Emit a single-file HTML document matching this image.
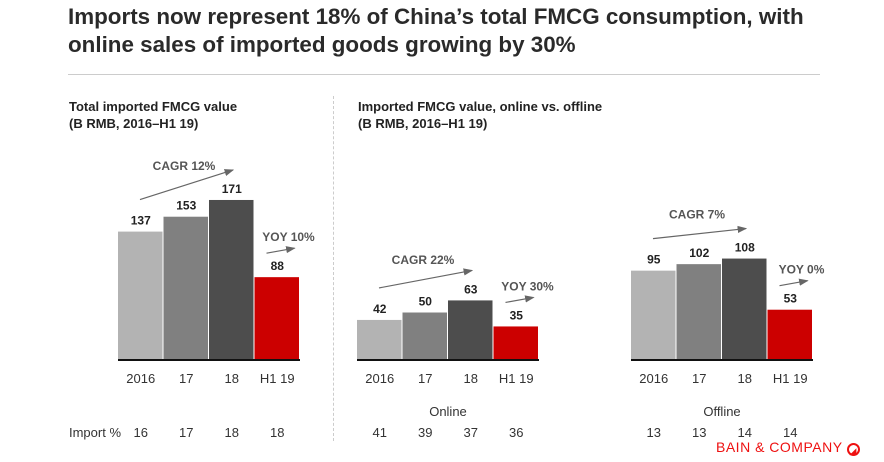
<!DOCTYPE html>
<html><head><meta charset="utf-8"><style>
body{margin:0;background:#fff;font-family:"Liberation Sans",Arial,sans-serif;}
#wrap{position:relative;width:884px;height:462px;overflow:hidden;}
.t{position:absolute;color:#333;}
</style></head><body>
<div id="wrap">
<div class="t" style="left:68px;top:3px;font-size:22.4px;font-weight:bold;line-height:28px;color:#2a2a2a;">Imports now represent 18% of China’s total FMCG consumption, with<br>online sales of imported goods growing by 30%</div>
<div style="position:absolute;left:68px;top:74px;width:752px;height:1px;background:#ccc;"></div>
<div style="position:absolute;left:333px;top:96px;height:345px;border-left:1px dashed #ccc;"></div>
<div class="t" style="left:69px;top:98px;font-size:13px;font-weight:bold;line-height:17px;color:#222;">Total imported FMCG value<br>(B RMB, 2016–H1 19)</div>
<div class="t" style="left:358px;top:98px;font-size:13px;font-weight:bold;line-height:17px;color:#222;">Imported FMCG value, online vs. offline<br>(B RMB, 2016–H1 19)</div>
<svg id="svg" width="884" height="462" style="position:absolute;left:0;top:0;">
<defs><marker id="ah" markerWidth="8" markerHeight="8" refX="7" refY="4" orient="auto"><path d="M0,1 L8,4 L0,7 z" fill="#666"/></marker></defs>
</svg>
<div class="t" style="left:716px;top:439px;font-size:14px;color:#e11;letter-spacing:0.5px;">BAIN &amp; COMPANY <span style="display:inline-block;width:13px;height:13px;border:2px solid #e11;border-radius:50%;font-size:9px;line-height:13px;text-align:center;vertical-align:-2px;box-sizing:border-box;">◢</span></div>
</div>
<script>
const categories=["2016","17","18","H1 19"];
const totalValues=[137,153,171,88];
const onlineValues=[42,50,63,35];
const offlineValues=[95,102,108,53];
const totalImportPct=[16,17,18,18];
const onlineImportPct=[41,39,37,36];
const offlineImportPct=[13,13,14,14];
const cagrLabels=["CAGR 12%","CAGR 22%","CAGR 7%"];
const yoyLabels=["YOY 10%","YOY 30%","YOY 0%"];
const colors=["#b3b3b3","#808080","#4d4d4d","#cc0000"];
const svg=document.getElementById('svg');
const NS="http://www.w3.org/2000/svg";
const base=359,scale=0.93,bw=45.5;
function y(v){return base-v*scale;}
function mk(tag,attrs){const e=document.createElementNS(NS,tag);for(const k in attrs)e.setAttribute(k,attrs[k]);svg.appendChild(e);return e;}
function txt(x,yy,s,opt){const e=mk('text',{x:x,y:yy,'text-anchor':'middle','font-size':opt.size||12,'font-weight':opt.bold?'bold':'normal',fill:opt.fill||'#333','font-family':'Liberation Sans, Arial, sans-serif'});e.textContent=s;return e;}
const panels=[
 {x0:118,vals:totalValues,pct:totalImportPct,name:'total',group:null},
 {x0:357,vals:onlineValues,pct:onlineImportPct,name:'online',group:'Online'},
 {x0:631,vals:offlineValues,pct:offlineImportPct,name:'offline',group:'Offline'}];
panels.forEach((p,pi)=>{
 p.vals.forEach((v,i)=>{
  const x=p.x0+i*bw;
  const r=mk('rect',{x:x,y:y(v),width:bw-1,height:v*scale,fill:colors[i]});
  
  
  const t=txt(x+bw/2,y(v)-7,String(v),{bold:true,fill:'#222'});
  
  
  const c=txt(x+bw/2,383,categories[i],{size:13});
  
  
  const q=txt(x+bw/2,437,String(p.pct[i]),{size:13});
  
  
 });
 const ax=mk('line',{x1:p.x0,x2:p.x0+4*bw,y1:base+1,y2:base+1,stroke:'#111','stroke-width':2});
 
 
 if(p.group){const g=txt(p.x0+2*bw,416,p.group,{size:13});}
 const top=y(Math.max(p.vals[0],p.vals[1],p.vals[2]));
 const a=mk('line',{x1:p.x0+22,y1:y(p.vals[0])-32,x2:p.x0+2*bw+24,y2:top-30,stroke:'#666','stroke-width':1.2,'marker-end':'url(#ah)'});
 
 
 const ct=txt(p.x0+66,(y(p.vals[0])+top)/2-46,cagrLabels[pi],{fill:'#555',bold:true});
 
 
 const yx=p.x0+3*bw;
 const yv=y(p.vals[3]);
 const ya=mk('line',{x1:yx+12,y1:yv-24,x2:yx+40,y2:yv-29,stroke:'#666','stroke-width':1.2,'marker-end':'url(#ah)'});
 
 
 const yt=txt(yx+34,yv-36,yoyLabels[pi],{fill:'#555',bold:true});
 
 
});
const ip=txt(95,437,'Import %',{size:13});


</script>
</body></html>
